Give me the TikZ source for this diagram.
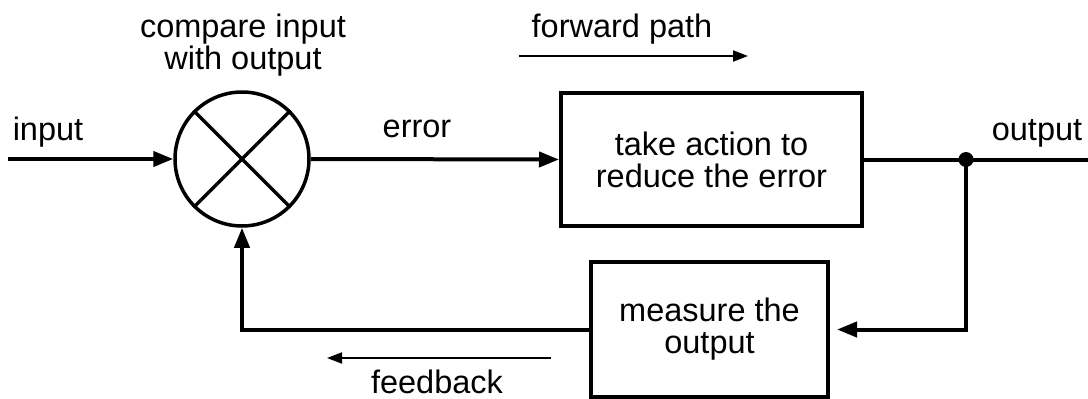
\documentclass[tikz,border=0pt]{standalone}
\usepackage{fontspec}
\setmainfont{Liberation Sans}
\usetikzlibrary{arrows.meta}
\begin{document}
\begin{tikzpicture}[x=1pt, y=-1pt,
    every node/.style={font=\fontsize{32.5}{32}\selectfont, inner sep=0pt},
    block/.style={draw=black, line width=4pt, align=center},
    flow/.style={line width=4pt, -{Triangle[length=20pt,width=15pt]}},
    hint/.style={line width=2pt, -{Triangle[length=15pt,width=11pt]}}]
    \useasboundingbox (0,0) rectangle (1088,399);
    \node[shape=circle,draw=black,line width=3.5pt,minimum size=134pt] (cmp) at (242,159) {};
    \node[block,minimum width=301pt,minimum height=133pt] (act) at (711.5,159.5) {take action to\\reduce the error};
    \node[block,minimum width=237pt,minimum height=135pt] (meas) at (709.5,329.5) {measure the\\output};
    \node[shape=circle,fill=black,minimum size=15pt] (tap) at (966,159.5) {};
    \coordinate (in) at (8,159);
    \coordinate (out) at (1088,159.5);
    \coordinate (fwa) at (519,56);
    \coordinate (fwb) at (748,56);
    \coordinate (fba) at (551,358);
    \coordinate (fbb) at (327,358);
    \draw[line width=3.5pt] (cmp.45) -- (cmp.225);
    \draw[line width=3.5pt] (cmp.135) -- (cmp.-45);
    \draw[flow] (in) -- (cmp.west);
    \draw[flow] (cmp.east) -- (act.west);
    \draw[line width=4pt] (act.east) -- (out);
    \draw[flow, shorten >=7pt] (tap.center) |- (meas.east);
    \draw[flow] (meas.west) -| (cmp.south);
    \draw[hint] (fwa) -- (fwb);
    \draw[hint] (fba) -- (fbb);
    \node[anchor=base] (lin) at (48,140) {input};
    \node[anchor=base] (lerr) at (417,137) {error};
    \node[anchor=base] (lout) at (1037,140) {output};
    \node[anchor=base] (lfwd) at (622,37) {forward path};
    \node[anchor=base] (lfb) at (437,393) {feedback};
    \node[align=center] (lcmp) at (243,45) {compare input\\with output};
\end{tikzpicture}
\end{document}
